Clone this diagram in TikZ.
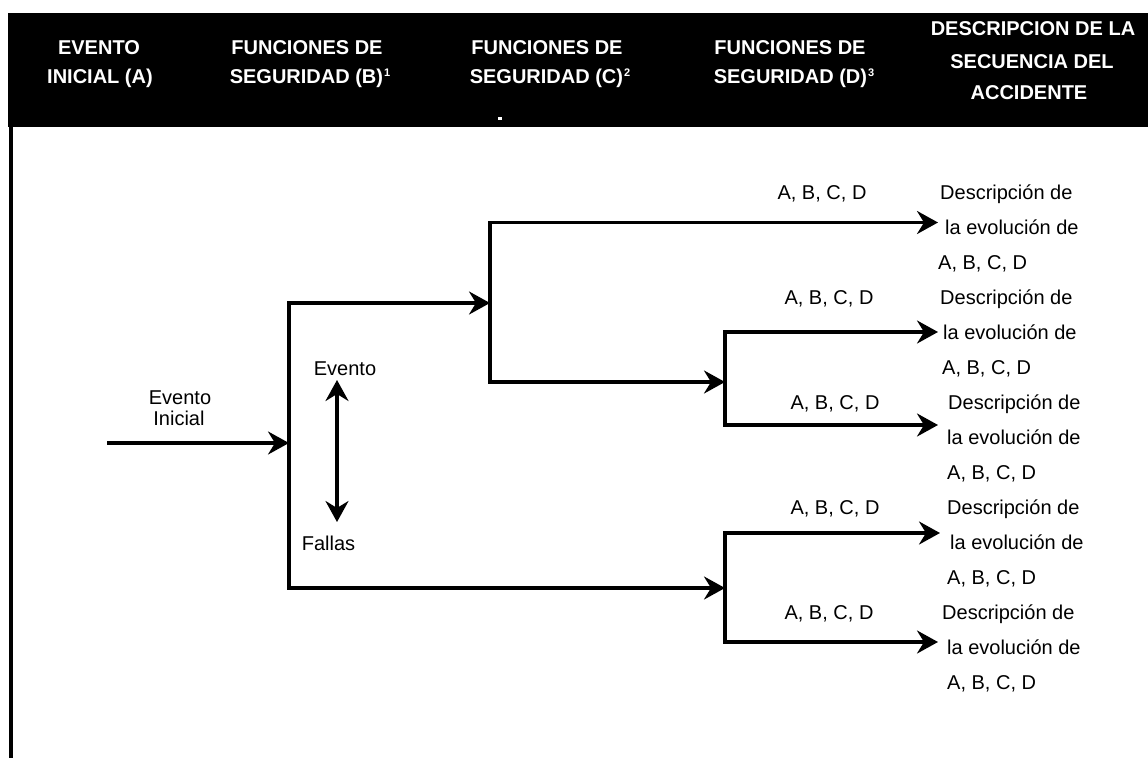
\documentclass[tikz,border=0pt]{standalone}
\usepackage{fontspec}
\setmainfont{Liberation Sans}
\usetikzlibrary{arrows.meta}
\tikzset{
  >={Stealth[length=21pt,width=23pt,inset=7pt]},
  conn/.style={line width=3.3pt, line join=miter},
  hdr/.style={text=white, font=\bfseries\fontsize{20}{24}\selectfont, inner sep=0pt, anchor=base},
  txt/.style={font=\fontsize{20}{24}\selectfont, inner sep=0pt, anchor=base},
  rtxt/.style={txt, anchor=base west},
}
\newcommand{\supnum}[1]{\kern1pt\raisebox{7pt}{\fontsize{11}{11}\selectfont #1}}
\begin{document}
\begin{tikzpicture}[x=1pt,y=-1pt]
\useasboundingbox (0,0) rectangle (1148,758);
% header band
\fill[black] (8,13) rectangle (1148,127);
\fill[white] (498,117) rectangle (502,120);
% left border
\draw[line width=4pt] (11,127) -- (11,758);
% header texts
\node[hdr] (hA1) at (99,54.5) {EVENTO};
\node[hdr] (hA2) at (100,83) {INICIAL (A)};
\node[hdr] (hB1) at (307,54.5) {FUNCIONES DE};
\node[hdr] (hB2) at (310,83) {SEGURIDAD (B)\supnum{1}};
\node[hdr] (hC1) at (547,54.5) {FUNCIONES DE};
\node[hdr] (hC2) at (550,83) {SEGURIDAD (C)\supnum{2}};
\node[hdr] (hD1) at (790,54.5) {FUNCIONES DE};
\node[hdr] (hD2) at (794,83) {SEGURIDAD (D)\supnum{3}};
\node[hdr] (hE1) at (1033,35) {DESCRIPCION DE LA};
\node[hdr] (hE2) at (1032,68) {SECUENCIA DEL};
\node[hdr] (hE3) at (1029,99) {ACCIDENTE};
% coordinates
\coordinate (start) at (107,443);
\coordinate (Bm) at (289,443);
\coordinate (Bt) at (289,303);
\coordinate (Bb) at (289,588);
\coordinate (Ct) at (490,222.5);
\coordinate (Cm) at (490,303);
\coordinate (Cb) at (490,382);
\coordinate (D1t) at (725,332);
\coordinate (D1m) at (725,382);
\coordinate (D1b) at (725,425);
\coordinate (D2t) at (725,533);
\coordinate (D2m) at (725,588);
\coordinate (D2b) at (725,642);
\coordinate (E1) at (938,222.5);
\coordinate (E2) at (938,332);
\coordinate (E3) at (938,425);
\coordinate (E4) at (940,533);
\coordinate (E5) at (938,642);
\coordinate (dTop) at (337,380);
\coordinate (dBot) at (337,522);
% connectors
\draw[conn,->] (start) -- (Bm);
\draw[conn,<->] (Cm) -- (Bt) -- (Bb) -- (D2m);
\draw[conn,<->] (E1) -- (Ct) -- (Cb) -- (D1m);
\draw[conn,<->] (E2) -- (D1t) -- (D1b) -- (E3);
\draw[conn,<->] (E4) -- (D2t) -- (D2b) -- (E5);
\draw[conn,<->] (dTop) -- (dBot);
% left labels
\node[txt] (ei1) at (180,404) {Evento};
\node[txt] (ei2) at (179,425) {Inicial};
\node[txt] (ev) at (345,375) {Evento};
\node[txt] (fa) at (328.5,550) {Fallas};
% branch labels
\node[txt] (L1) at (822,199) {A, B, C, D};
\node[txt] (L2) at (829,304) {A, B, C, D};
\node[txt] (L3) at (835,409) {A, B, C, D};
\node[txt] (L4) at (835,514) {A, B, C, D};
\node[txt] (L5) at (829,619) {A, B, C, D};
% descriptions
\node[rtxt] (r1a) at (940,199) {Descripción de};
\node[rtxt] (r1b) at (945,234) {la evolución de};
\node[rtxt] (r1c) at (938,269) {A, B, C, D};
\node[rtxt] (r2a) at (940,304) {Descripción de};
\node[rtxt] (r2b) at (943,339) {la evolución de};
\node[rtxt] (r2c) at (942,374) {A, B, C, D};
\node[rtxt] (r3a) at (948,409) {Descripción de};
\node[rtxt] (r3b) at (947,444) {la evolución de};
\node[rtxt] (r3c) at (947,479) {A, B, C, D};
\node[rtxt] (r4a) at (947,514) {Descripción de};
\node[rtxt] (r4b) at (950,549) {la evolución de};
\node[rtxt] (r4c) at (947,584) {A, B, C, D};
\node[rtxt] (r5a) at (942,619) {Descripción de};
\node[rtxt] (r5b) at (947,654) {la evolución de};
\node[rtxt] (r5c) at (947,689) {A, B, C, D};
\end{tikzpicture}
\end{document}
